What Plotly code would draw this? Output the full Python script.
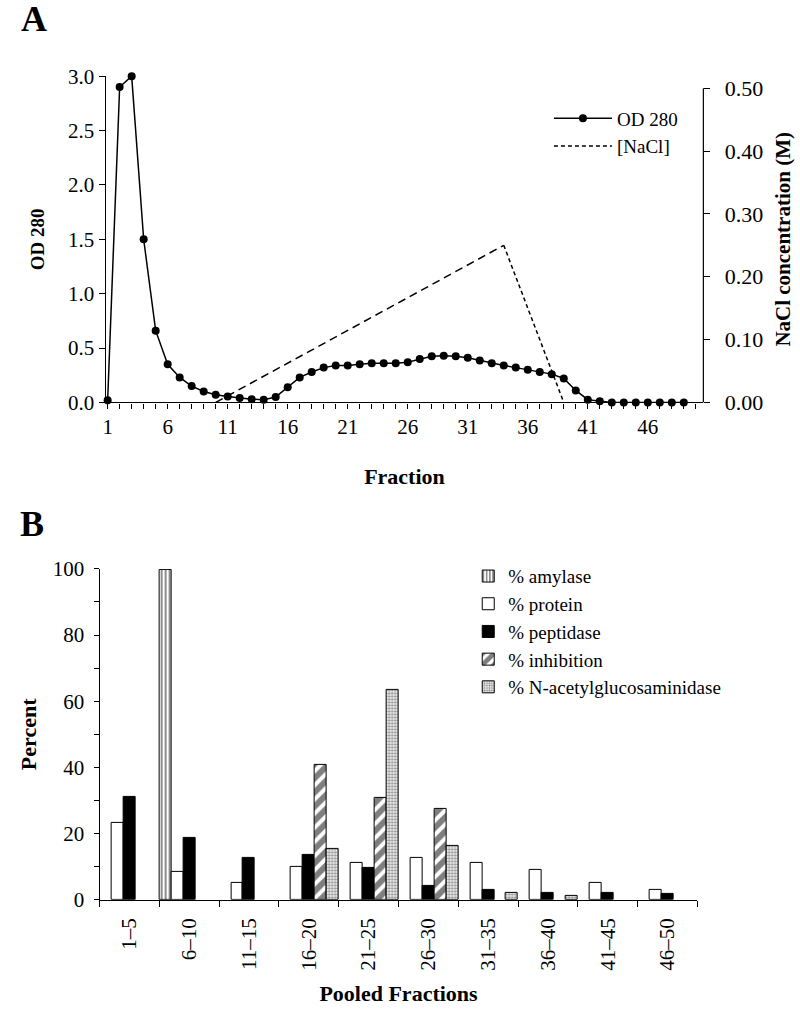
import plotly.graph_objects as go

# ---------------- Panel A data ----------------
fractions = list(range(1, 50))
od280 = [0.02, 2.90, 3.00, 1.50, 0.66, 0.35, 0.23, 0.15, 0.10, 0.07,
         0.055, 0.04, 0.03, 0.025, 0.05, 0.14, 0.23, 0.28, 0.32, 0.34,
         0.34, 0.35, 0.36, 0.36, 0.36, 0.37, 0.40, 0.425, 0.43, 0.425,
         0.41, 0.385, 0.36, 0.34, 0.32, 0.30, 0.28, 0.26, 0.22, 0.11,
         0.025, 0.01, 0.0, 0.0, 0.0, 0.0, 0.0, 0.0, 0.0]
nacl_fraction = [10, 34, 39]
nacl_conc = [0.0, 0.25, 0.0]
fraction_tickvals = [1, 6, 11, 16, 21, 26, 31, 36, 41, 46]
fraction_ticktext = ["1", "6", "11", "16", "21", "26", "31", "36", "41", "46"]
od_tickvals = [0.0, 0.5, 1.0, 1.5, 2.0, 2.5, 3.0]
nacl_tickvals = [0.0, 0.1, 0.2, 0.3, 0.4, 0.5]

# ---------------- Panel B data ----------------
pooled = ["1–5", "6–10", "11–15", "16–20", "21–25", "26–30",
          "31–35", "36–40", "41–45", "46–50"]
amylase = [None, 99.8, None, None, None, None, None, None, None, None]
protein = [23.3, 8.5, 5.2, 9.8, 11.3, 12.8, 11.2, 9.0, 5.0, 3.0]
peptidase = [31.2, 18.7, 12.8, 13.6, 9.7, 4.2, 2.9, 2.2, 2.1, 1.9]
inhibition = [None, None, None, 40.8, 30.8, 27.5, None, None, None, None]
nacetyl = [None, None, None, 15.3, 63.5, 16.4, 2.1, 1.3, None, None]

FONT = '"Liberation Serif", "Times New Roman", Times, serif'
W, H = 800, 1012

def px_x(p):
    return p / W

def px_y(p):
    return 1 - p / H

fig = go.Figure()

# OD 280
fig.add_trace(go.Scatter(
    x=fractions, y=od280, mode="lines+markers", name="OD 280",
    line=dict(color="black", width=1.5),
    marker=dict(color="black", size=8),
    xaxis="x", yaxis="y", cliponaxis=False,
    legend="legend", legendgroup="od", legendrank=1))

# NaCl gradient (rising part longer dashes, falling part short dashes)
fig.add_trace(go.Scatter(
    x=nacl_fraction[0:2], y=nacl_conc[0:2], mode="lines", name="[NaCl]",
    line=dict(color="black", width=1.5, dash="8px,5px"),
    xaxis="x", yaxis="y2", showlegend=False, legend="legend"))
fig.add_trace(go.Scatter(
    x=nacl_fraction[1:3], y=nacl_conc[1:3], mode="lines", name="[NaCl]",
    line=dict(color="black", width=1.5, dash="4px,3px"),
    xaxis="x", yaxis="y2", legend="legend", legendgroup="nacl", legendrank=2))

# Bars
bar_line = dict(color="black", width=1)
fig.add_trace(go.Bar(
    x=pooled, y=amylase, name="% amylase", xaxis="x2", yaxis="y4",
    marker=dict(color="white", line=bar_line,
                pattern=dict(shape="|", fgcolor="black", bgcolor="white",
                             size=4, solidity=0.45)),
    legend="legend2"))
fig.add_trace(go.Bar(
    x=pooled, y=protein, name="% protein", xaxis="x2", yaxis="y4",
    marker=dict(color="white", line=bar_line), legend="legend2"))
fig.add_trace(go.Bar(
    x=pooled, y=peptidase, name="% peptidase", xaxis="x2", yaxis="y4",
    marker=dict(color="black", line=bar_line), legend="legend2"))
fig.add_trace(go.Bar(
    x=pooled, y=inhibition, name="% inhibition", xaxis="x2", yaxis="y4",
    marker=dict(color="white", line=bar_line,
                pattern=dict(shape="/", fgcolor="black", bgcolor="white",
                             size=10, solidity=0.6)),
    legend="legend2"))
fig.add_trace(go.Bar(
    x=pooled, y=nacetyl, name="% N-acetylglucosaminidase", xaxis="x2", yaxis="y4",
    marker=dict(color="white", line=bar_line,
                pattern=dict(shape=".", fgcolor="#222222", bgcolor="white",
                             size=3, solidity=0.5)),
    legend="legend2"))

# Domains (pixel positions)
A_top, A_bot = 65.8, 400.3
NaCl_half = 78.1          # pixel row of 0.50 M
B_top, B_bot = 571.0, 910.3
xA = [px_x(103), px_x(703)]
yA = [px_y(A_bot), px_y(A_top)]
xB = [px_x(97), px_x(697)]
yB = [px_y(B_bot), px_y(B_top)]

od_top = 3.0
nacl_top = 0.5 * (A_bot - A_top) / (A_bot - NaCl_half)

axis_common = dict(showgrid=False, zeroline=False, linecolor="black",
                   linewidth=1.2, tickcolor="black", tickwidth=1.2,
                   color="black")

fig.update_layout(
    width=W, height=H,
    margin=dict(l=0, r=0, t=0, b=0),
    paper_bgcolor="white", plot_bgcolor="white",
    font=dict(family=FONT, color="black", size=21),
    barmode="group", bargap=0, bargroupgap=0,
    xaxis=dict(domain=xA, range=[0.83, 50.63], anchor="y",
               showline=True, ticks="outside", ticklen=5,
               tickmode="array", tickvals=fraction_tickvals,
               ticktext=fraction_ticktext,
               tickfont=dict(size=21, family=FONT),
               minor=dict(dtick=1, tick0=1, ticks="outside", ticklen=5,
                          tickcolor="black", tickwidth=1.2),
               title=dict(text="<b>Fraction</b>", font=dict(size=22, family=FONT),
                          standoff=30),
               **axis_common),
    yaxis=dict(domain=yA, range=[0, od_top], anchor="x",
               showline=True, ticks="outside", ticklen=6,
               tickvals=od_tickvals, tickformat=".1f",
               tickfont=dict(size=21, family=FONT),
               title=dict(text="<b>OD 280</b>", font=dict(size=19, family=FONT),
                          standoff=18),
               **axis_common),
    yaxis2=dict(range=[0, nacl_top], overlaying="y", side="right",
                anchor="x", showline=False, ticks="outside", ticklen=6,
                tickvals=nacl_tickvals, tickformat=".2f",
                ticklabelstandoff=10,
                tickfont=dict(size=22, family=FONT),
                title=dict(text="<b>NaCl concentration (M)</b>",
                           font=dict(size=21, family=FONT), standoff=13),
                **axis_common),
    yaxis3=dict(range=[0, nacl_top], overlaying="y", side="right",
                anchor="x", showline=False, ticks="inside", ticklen=6,
                tickvals=nacl_tickvals, showticklabels=False,
                **axis_common),
    xaxis2=dict(domain=xB, anchor="y4", type="category",
                showline=True, ticks="outside", ticklen=6,
                tickson="boundaries", tickangle=-90,
                ticklabelstandoff=9,
                tickfont=dict(size=21, family=FONT),
                title=dict(text="<b>Pooled Fractions</b>",
                           font=dict(size=22, family=FONT), standoff=15),
                **axis_common),
    yaxis4=dict(domain=yB, range=[0, 100], anchor="x2",
                showline=True, ticks="outside", ticklen=5,
                dtick=20, tickfont=dict(size=21, family=FONT),
                ticklabelstandoff=5,
                minor=dict(dtick=10, ticks="outside", ticklen=5,
                           tickcolor="black", tickwidth=1.2),
                title=dict(text="<b>Percent</b>", font=dict(size=22, family=FONT),
                           standoff=10),
                **axis_common),
    legend=dict(x=px_x(548), y=px_y(89.6), xanchor="left", yanchor="top",
                bgcolor="rgba(0,0,0,0)", font=dict(size=19, family=FONT),
                itemwidth=58, tracegroupgap=4, traceorder="normal"),
    legend2=dict(x=px_x(467), y=px_y(559), xanchor="left", yanchor="top",
                 bgcolor="rgba(0,0,0,0)", font=dict(size=19, family=FONT),
                 itemwidth=30, tracegroupgap=0),
    shapes=[dict(type="line", xref="x domain", yref="y2", x0=1, x1=1,
                 y0=0, y1=0.5, line=dict(color="black", width=1.2))],
    annotations=[
        dict(text="<b>A</b>", x=px_x(16), y=px_y(-15), xref="paper", yref="paper",
             xanchor="left", yanchor="top", showarrow=False,
             font=dict(size=36, family=FONT)),
        dict(text="<b>B</b>", x=px_x(15), y=px_y(502), xref="paper", yref="paper",
             xanchor="left", yanchor="top", showarrow=False,
             font=dict(size=36, family=FONT)),
    ],
)

post = ("var d=document.getElementById('{plot_id}');"
        "d.style.position='fixed';d.style.left='0px';d.style.top='0px';"
        "document.body.style.margin='0';document.body.style.padding='0';"
        "document.documentElement.style.overflow='hidden';"
        "document.body.style.overflow='hidden';")

fig.write_html("out.html", config={"displayModeBar": False}, post_script=post)
